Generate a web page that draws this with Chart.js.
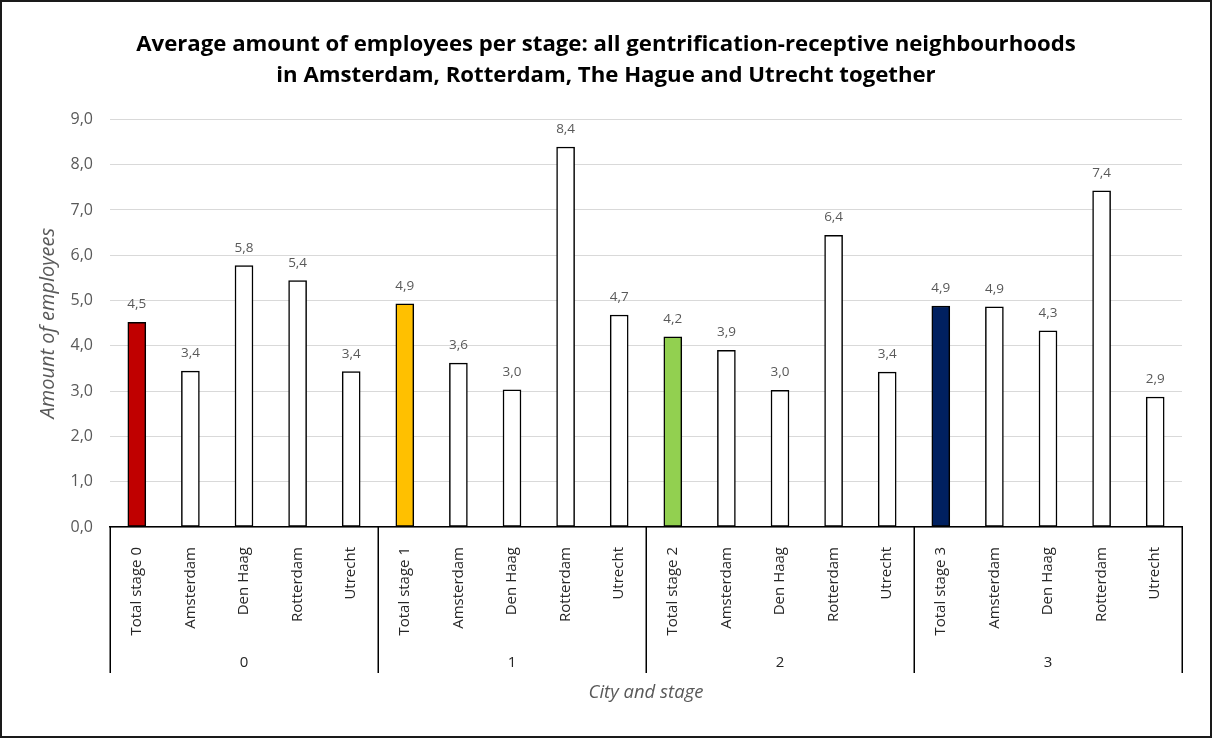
<!DOCTYPE html>
<html>
<head>
<meta charset="utf-8">
<script src="https://cdn.jsdelivr.net/npm/chart.js@4.4.1/dist/chart.umd.min.js"></script>
<style>
  html, body { margin: 0; padding: 0; background: #ffffff; }
  #wrap { position: relative; width: 1212px; height: 738px; box-sizing: border-box; border: 2px solid #1a1a1a; background:#fff; }
  canvas { position: absolute; left: -2px; top: -2px; }
</style>
</head>
<body>
<div id="wrap"><canvas id="c" width="1212" height="738"></canvas></div>
<script>
const FONT = "'Open Sans', Lato, 'Liberation Sans', sans-serif";

const titleLines = [
  'Average amount of employees per stage: all gentrification-receptive neighbourhoods',
  'in Amsterdam, Rotterdam, The Hague and Utrecht together'
];
const categories = [
  'Total stage 0', 'Amsterdam', 'Den Haag', 'Rotterdam', 'Utrecht',
  'Total stage 1', 'Amsterdam', 'Den Haag', 'Rotterdam', 'Utrecht',
  'Total stage 2', 'Amsterdam', 'Den Haag', 'Rotterdam', 'Utrecht',
  'Total stage 3', 'Amsterdam', 'Den Haag', 'Rotterdam', 'Utrecht'
];
const groupLabels = ['0', '1', '2', '3'];
const groupSize = 5;
const values = [
  4.52, 3.44, 5.77, 5.44, 3.43,
  4.93, 3.62, 3.03, 8.39, 4.68,
  4.20, 3.90, 3.02, 6.44, 3.42,
  4.88, 4.86, 4.33, 7.42, 2.87
];
const barColors = [
  '#c00000', '#ffffff', '#ffffff', '#ffffff', '#ffffff',
  '#ffc000', '#ffffff', '#ffffff', '#ffffff', '#ffffff',
  '#92d050', '#ffffff', '#ffffff', '#ffffff', '#ffffff',
  '#002060', '#ffffff', '#ffffff', '#ffffff', '#ffffff'
];
const yMin = 0, yMax = 9, yStep = 1;
const yTitle = 'Amount of employees';
const xTitle = 'City and stage';

const fmt = v => v.toFixed(1).replace('.', ',');

const labelPlugin = {
  id: 'labels',
  afterDatasetsDraw(chart) {
    const ctx = chart.ctx;
    const meta = chart.getDatasetMeta(0);
    ctx.save();
    ctx.font = '13.5px ' + FONT;
    ctx.fillStyle = '#595959';
    ctx.textAlign = 'center';
    ctx.textBaseline = 'alphabetic';
    meta.data.forEach((bar, i) => {
      ctx.fillText(fmt(values[i]), bar.x, bar.y - 14);
    });
    ctx.restore();
  },
  afterDraw(chart) {
    const ctx = chart.ctx;
    const x = chart.scales.x;
    const area = chart.chartArea;
    const top = area.bottom;
    const bottom = top + 146;
    ctx.save();
    ctx.strokeStyle = '#000000';
    ctx.lineWidth = 1.5;
    const nG = groupLabels.length;
    const step = (x.right - x.left) / categories.length;
    for (let g = 0; g <= nG; g++) {
      const px = Math.round(x.left + g * groupSize * step) + 0.25;
      ctx.beginPath();
      ctx.moveTo(px, top);
      ctx.lineTo(px, bottom);
      ctx.stroke();
    }
    ctx.font = '15px ' + FONT;
    ctx.fillStyle = '#262626';
    ctx.textAlign = 'center';
    ctx.textBaseline = 'middle';
    for (let g = 0; g < nG; g++) {
      const cx = x.left + (g * groupSize + groupSize / 2) * step;
      ctx.fillText(groupLabels[g], cx, top + 136);
    }
    ctx.font = 'italic 18.5px ' + FONT;
    ctx.fillStyle = '#595959';
    ctx.fillText(xTitle, (x.left + x.right) / 2, top + 166);
    ctx.restore();
  }
};

new Chart(document.getElementById('c'), {
  type: 'bar',
  data: {
    labels: categories,
    datasets: [{
      data: values,
      backgroundColor: barColors,
      borderColor: '#000000',
      borderWidth: 1.5,
      barThickness: 18,
      borderSkipped: false
    }]
  },
  options: {
    responsive: false,
    animation: false,
    devicePixelRatio: 1,
    layout: { padding: { left: 30, right: 30, top: 0, bottom: 0 } },
    plugins: {
      legend: { display: false },
      tooltip: { enabled: false },
      title: {
        display: true,
        text: titleLines,
        color: '#000000',
        font: { family: FONT, size: 22.2, weight: 'bold', lineHeight: 1.36 },
        padding: { top: 30, bottom: 29 }
      }
    },
    scales: {
      x: {
        grid: { display: false },
        border: { display: true, color: '#000000', width: 1.5 },
        ticks: {
          autoSkip: false,
          maxRotation: 90,
          minRotation: 90,
          padding: 12,
          color: '#262626',
          font: { family: FONT, size: 15 }
        },
        afterFit(scale) { scale.height = 211; }
      },
      y: {
        min: yMin,
        max: yMax,
        border: { display: false },
        grid: { color: '#d9d9d9', lineWidth: 1, drawTicks: false },
        ticks: {
          stepSize: yStep,
          padding: 17,
          color: '#595959',
          font: { family: FONT, size: 16 },
          callback: v => fmt(v)
        },
        title: {
          display: true,
          text: yTitle,
          color: '#595959',
          font: { family: FONT, size: 20, style: 'italic' },
          padding: { top: 6, bottom: 0 }
        },
        afterFit(scale) { scale.width = 80; }
      }
    }
  },
  plugins: [labelPlugin]
});
</script>
</body>
</html>
